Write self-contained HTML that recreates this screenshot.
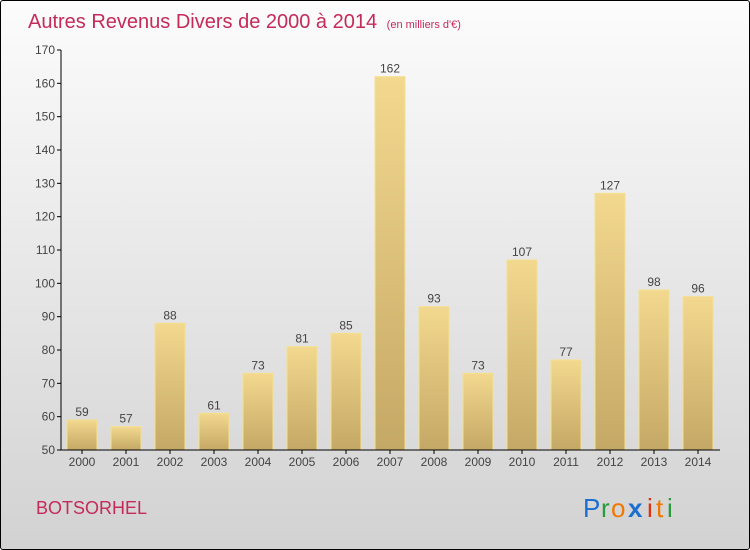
<!DOCTYPE html>
<html><head><meta charset="utf-8"><style>
body{margin:0;width:750px;height:550px;overflow:hidden;font-family:"Liberation Sans",sans-serif}
#wrap{position:absolute;left:0;top:0;width:748px;height:548px;border:1px solid #000;border-radius:3px;background:linear-gradient(#fcfcfc,#d2d2d2)}
</style></head><body>
<div id="wrap">
<svg width="750" height="550" style="position:absolute;left:-1px;top:-1px" id="chart">
<defs><linearGradient id="bg" x1="0" y1="0" x2="0" y2="1"><stop offset="0" stop-color="#f3d88f"/><stop offset="1" stop-color="#c4a865"/></linearGradient></defs>
<text x="28" y="28" font-size="20" fill="#c42a5a">Autres Revenus Divers de 2000 à 2014 <tspan font-size="11" dx="4">(en milliers d'€)</tspan></text>
<text x="36" y="514" font-size="18" fill="#c42a5a">BOTSORHEL</text>
<g font-size="26" font-family="'Liberation Sans',sans-serif">
<text x="583" y="517" fill="#1a6fd0">P</text><text x="601" y="517" fill="#2a9a3a">r</text><text x="611" y="517" fill="#f07800">o</text><text x="628" y="517" fill="#1a6fd0" font-weight="bold">x</text><text x="647" y="517" fill="#e03010">i</text><text x="656" y="517" fill="#f07800">t</text><text x="667" y="517" fill="#2a9a3a">i</text></g>
<g id="plot"></g>
</svg></div>
<script>
const years=["2000","2001","2002","2003","2004","2005","2006","2007","2008","2009","2010","2011","2012","2013","2014"];
const values=[59,57,88,61,73,81,85,162,93,73,107,77,127,98,96];
const yTicks=[50,60,70,80,90,100,110,120,130,140,150,160,170];
const NS="http://www.w3.org/2000/svg";
const g=document.getElementById('plot');
const y=v=>450-(v-50)*400/120;
const x=i=>82+i*44;
function mk(t,a){const e=document.createElementNS(NS,t);for(const k in a)e.setAttribute(k,a[k]);g.appendChild(e);return e;}
yTicks.forEach(t=>{
 const l=mk('line',{x1:57,x2:61,y1:y(t),y2:y(t),stroke:'#000'});
 
 
 const tx=mk('text',{x:55,y:y(t)+4,'font-size':12,'text-anchor':'end',fill:'#444'});tx.textContent=t;
 
 
});
values.forEach((v,i)=>{
 const r=mk('rect',{x:x(i)-15,y:y(v),width:30,height:450-y(v),fill:'url(#bg)',stroke:'#f5e08f','stroke-width':1});
 
 
 const t=mk('text',{x:x(i),y:y(v)-4,'font-size':12,'text-anchor':'middle',fill:'#444'});t.textContent=v;
 
 
 const tk=mk('line',{x1:x(i),x2:x(i),y1:450,y2:454,stroke:'#000'});
 
 
 const xl=mk('text',{x:x(i),y:466,'font-size':12,'text-anchor':'middle',fill:'#444'});xl.textContent=years[i];
 
 
});
const ax=mk('path',{d:'M61,50V450H720',stroke:'#000',fill:'none'});


</script>
</body></html>
